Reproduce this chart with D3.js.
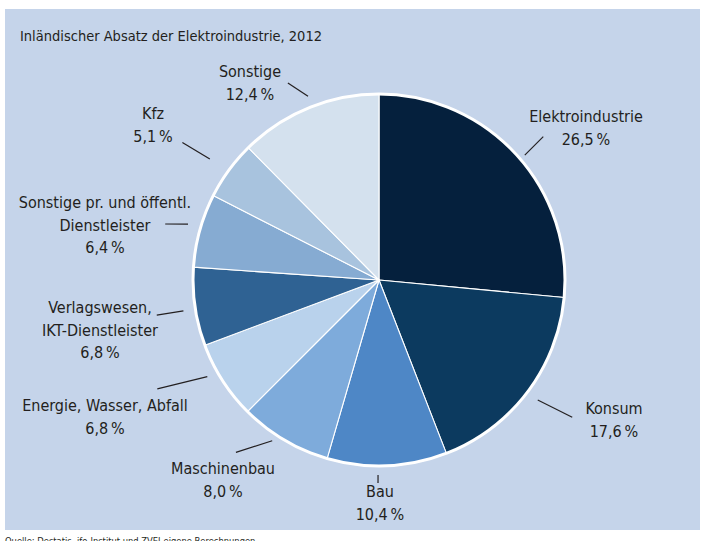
<!DOCTYPE html>
<html>
<head>
<meta charset="utf-8">
<script src="https://cdn.jsdelivr.net/npm/d3@7"></script>
<style>
  html, body { margin: 0; padding: 0; background: #ffffff; }
  svg { display: block; }
  text { font-family: "DejaVu Sans Condensed", "DejaVu Sans", sans-serif; font-stretch: condensed; fill: #231f20; }
</style>
</head>
<body>
<svg id="chart" width="702" height="541"></svg>
<script>
// Inländischer Absatz der Elektroindustrie 2012, Anteile in Prozent
const categories = [
  "Elektroindustrie", "Konsum", "Bau", "Maschinenbau",
  "Energie, Wasser, Abfall", "Verlagswesen, IKT-Dienstleister",
  "Sonstige pr. und öffentl. Dienstleister", "Kfz", "Sonstige"
];
const shares = [26.5, 17.6, 10.4, 8.0, 6.8, 6.8, 6.4, 5.1, 12.4];
const labelLines = [
  ["Elektroindustrie"], ["Konsum"], ["Bau"], ["Maschinenbau"],
  ["Energie, Wasser, Abfall"], ["Verlagswesen,", "IKT-Dienstleister"],
  ["Sonstige pr. und öffentl.", "Dienstleister"], ["Kfz"], ["Sonstige"]
];
const sliceColors = [
  "#05203d", "#0c3a5f", "#4e87c6", "#7eabdb", "#b9d2ec",
  "#2f6293", "#86abd2", "#a8c3de", "#d4e1ee"
];

// label placement: text anchor (x, first baseline) and leader line
// as [inner angle offset°, inner radius, outer angle offset°, outer radius]
const labelLayout = [
  { x: 586, y: 122, leader: [1.7, 192, 1.2, 218] },
  { x: 614, y: 414, leader: [0, 199, -1.7, 237] },
  { x: 380, y: 497, leader: [2.8, 195, 2.8, 203] },
  { x: 223, y: 474, leader: [3.0, 193, 9.1, 224] },
  { x: 105, y: 411, leader: [3.4, 197, 6.6, 247] },
  { x: 100, y: 313, leader: [-0.7, 198, -0.7, 225] },
  { x: 105, y: 208, leader: [0.8, 199, -0.8, 221] },
  { x: 153, y: 119, leader: [-0.6, 208, -1.2, 240] },
  { x: 250, y: 77,  leader: [1.2, 197, -2.5, 217] }
];

const svg = d3.select("#chart");
const cx = 379, cy = 280, R = 186;
const lineHeight = 22.5;

// panel background
svg.append("rect")
  .attr("x", 5).attr("y", 9).attr("width", 695).attr("height", 521)
  .attr("fill", "#c5d4ea");

svg.append("text")
  .attr("x", 20).attr("y", 41)
  .attr("font-size", 14.5)
  .text("Inländischer Absatz der Elektroindustrie, 2012");

svg.append("text")
  .attr("x", 5).attr("y", 544)
  .attr("font-size", 9.3)
  .attr("fill", "#333")
  .text("Quelle: Destatis, ifo-Institut und ZVEI-eigene Berechnungen");

const data = categories.map((c, i) => ({
  name: c, value: shares[i], color: sliceColors[i], lines: labelLines[i], layout: labelLayout[i]
}));

const pie = d3.pie().value(d => d.value).sort(null);
const arcs = pie(data);
const arc = d3.arc().innerRadius(0).outerRadius(R);

const g = svg.append("g").attr("transform", `translate(${cx},${cy})`);

g.selectAll("path.slice")
  .data(arcs)
  .join("path")
  .attr("class", "slice")
  .attr("d", arc)
  .attr("fill", d => d.data.color)
  .attr("stroke", "#ffffff")
  .attr("stroke-width", 1.1)
  .attr("stroke-linejoin", "round");

// white rim around the pie
g.append("circle")
  .attr("r", R)
  .attr("fill", "none")
  .attr("stroke", "#ffffff")
  .attr("stroke-width", 3);

const polar = (deg, r) => {
  const a = deg * Math.PI / 180;
  return [r * Math.sin(a), -r * Math.cos(a)];
};
const fmt = v => d3.format(".1f")(v).replace(".", ",") + "\u2009%";

arcs.forEach(a => {
  const mid = (a.startAngle + a.endAngle) / 2 * 180 / Math.PI;
  const [a1, r1, a2, r2] = a.data.layout.leader;
  const p1 = polar(mid + a1, r1), p2 = polar(mid + a2, r2);
  g.append("line")
    .attr("x1", p1[0]).attr("y1", p1[1])
    .attr("x2", p2[0]).attr("y2", p2[1])
    .attr("stroke", "#231f20")
    .attr("stroke-width", 1.2);

  const t = svg.append("text")
    .attr("text-anchor", "middle")
    .attr("font-size", 16);
  const lines = a.data.lines.concat([fmt(a.data.value)]);
  lines.forEach((s, k) => {
    t.append("tspan")
      .attr("x", a.data.layout.x)
      .attr("y", a.data.layout.y + k * lineHeight)
      .text(s);
  });
});
</script>
</body>
</html>
